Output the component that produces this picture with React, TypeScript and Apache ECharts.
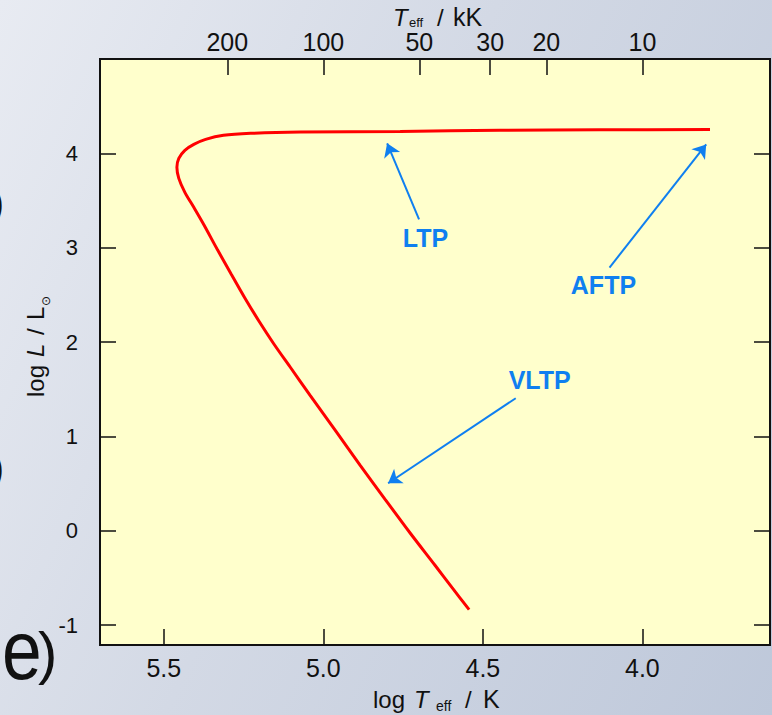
import { useEffect, useRef } from "react";
import * as echarts from "echarts";

// Post-AGB track: log Teff (K) and log L/Lsun, traced from the AFTP end through the knee to the VLTP end
const logTeff = [
  3.788, 4.134, 4.447, 4.759, 5.072, 5.228, 5.313, 5.369, 5.406, 5.434, 5.453, 5.459,
  5.453, 5.434, 5.406, 5.374, 5.333, 5.289, 5.246, 5.202, 5.155, 5.104, 5.042, 4.963,
  4.885, 4.807, 4.728, 4.65, 4.597, 4.543,
];
const logL = [
  4.254, 4.249, 4.244, 4.233, 4.226, 4.212, 4.191, 4.148, 4.095, 4.032, 3.947, 3.852,
  3.735, 3.587, 3.428, 3.241, 2.986, 2.722, 2.467, 2.223, 1.98, 1.736, 1.439, 1.068,
  0.697, 0.337, -0.023, -0.365, -0.6, -0.835,
];

// Axis ticks
const bottomTicks = [4.0, 4.5, 5.0, 5.5];
const leftTicks = [-1, 0, 1, 2, 3, 4];
const topTicksKK = [200, 100, 50, 30, 20, 10];

// Annotations: label, label anchor, arrow tail, arrow head (log Teff, log L)
const noteNames = ["LTP", "AFTP", "VLTP"];
const notePos = [
  [4.68, 3.1],
  [4.122, 2.6],
  [4.322, 1.595],
];
const arrowTail = [
  [4.7, 3.3],
  [4.103, 2.79],
  [4.397, 1.405],
];
const arrowHead = [
  [4.8, 4.106],
  [3.8, 4.095],
  [4.797, 0.504],
];

const X_MIN = 3.6;
const X_MAX = 5.7;
const Y_MIN = -1.21;
const Y_MAX = 5.0;

const FONT = "'Liberation Sans', Arial, Helvetica, sans-serif";
const BLUE = "#0f7ff0";
const INK = "#111111";

const txt = (x: number, y: number, text: string, font: string, extra: any = {}) => ({
  type: "text",
  x,
  y,
  style: { text, font, fill: INK, verticalAlign: "middle", ...extra },
});

export default function App() {
  const ref = useRef<HTMLDivElement | null>(null);

  useEffect(() => {
    if (!ref.current) return;
    const chart = echarts.init(ref.current, null, { renderer: "svg" });

    const tickStyle = { show: true, inside: true, length: 16, lineStyle: { color: INK, width: 1.5 } };
    const noLine = { show: false, onZero: false };
    const topTickValues = topTicksKK.map((t) => Math.log10(t * 1000));

    const option: any = {
      animation: false,
      backgroundColor: "transparent",
      grid: {
        left: 100,
        right: 2,
        top: 59,
        bottom: 70,
        show: true,
        backgroundColor: "#ffffcc",
        borderColor: INK,
        borderWidth: 2,
      },
      xAxis: [
        {
          type: "value",
          position: "bottom",
          min: X_MIN,
          max: X_MAX,
          inverse: true,
          axisLine: noLine,
          splitLine: { show: false },
          axisTick: { ...tickStyle, customValues: bottomTicks },
          axisLabel: {
            customValues: bottomTicks,
            formatter: (v: number) => v.toFixed(1),
            fontSize: 25,
            fontFamily: FONT,
            color: INK,
            margin: 10,
          },
        },
        {
          type: "value",
          position: "top",
          min: X_MIN,
          max: X_MAX,
          inverse: true,
          axisLine: noLine,
          splitLine: { show: false },
          axisTick: { ...tickStyle, customValues: topTickValues },
          axisLabel: {
            customValues: topTickValues,
            formatter: (v: number) => String(Math.round(Math.pow(10, v) / 1000)),
            fontSize: 25,
            fontFamily: FONT,
            color: INK,
            margin: 5,
          },
        },
      ],
      yAxis: [
        {
          type: "value",
          position: "left",
          min: Y_MIN,
          max: Y_MAX,
          axisLine: noLine,
          splitLine: { show: false },
          axisTick: { ...tickStyle, customValues: leftTicks },
          axisLabel: {
            customValues: leftTicks,
            formatter: (v: number) => String(v),
            fontSize: 22,
            fontFamily: FONT,
            color: INK,
            margin: 22,
          },
        },
        {
          type: "value",
          position: "right",
          min: Y_MIN,
          max: Y_MAX,
          axisLine: noLine,
          splitLine: { show: false },
          axisTick: { ...tickStyle, customValues: leftTicks },
          axisLabel: { show: false, customValues: leftTicks },
        },
      ],
      series: [
        {
          type: "line",
          xAxisIndex: 0,
          yAxisIndex: 0,
          data: logTeff.map((x, i) => [x, logL[i]]),
          smooth: 0.3,
          symbol: "none",
          lineStyle: { color: "#ff0000", width: 3 },
          z: 3,
        },
        {
          type: "scatter",
          xAxisIndex: 0,
          yAxisIndex: 0,
          symbolSize: 0,
          itemStyle: { color: BLUE, opacity: 0 },
          data: noteNames.map((n, i) => ({ name: n, value: notePos[i] })),
          label: {
            show: true,
            position: "inside",
            formatter: "{b}",
            color: BLUE,
            opacity: 1,
            textBorderWidth: 0,
            fontSize: 25,
            fontWeight: "bold",
            fontFamily: FONT,
          },
          markLine: {
            silent: true,
            symbol: ["none", "arrow"],
            symbolSize: 13,
            label: { show: false },
            lineStyle: { color: BLUE, width: 2, type: "solid", opacity: 1 },
            itemStyle: { color: BLUE },
            data: arrowTail.map((t, i) => [{ coord: t }, { coord: arrowHead[i] }]),
          },
          z: 4,
        },
      ],
      graphic: [
        // top axis title: T_eff / kK
        txt(393, 17, "T", `italic 24px ${FONT}`),
        txt(409, 22, "eff", `13px ${FONT}`),
        txt(437, 17, "/", `24px ${FONT}`),
        txt(453, 17, "kK", `25px ${FONT}`),
        // bottom axis title: log T_eff / K
        txt(373, 699, "log", `24px ${FONT}`),
        txt(414, 699, "T", `italic 24px ${FONT}`),
        txt(436, 706, "eff", `14px ${FONT}`),
        txt(465, 699, "/", `24px ${FONT}`),
        txt(483, 699, "K", `25px ${FONT}`),
        // left axis title: log L / L_sun, rotated
        {
          type: "group",
          x: 35,
          y: 397,
          rotation: Math.PI / 2,
          children: [
            txt(0, 0, "log", `24px ${FONT}`),
            txt(40, 0, "L", `italic 24px ${FONT}`),
            txt(62, 0, "/", `24px ${FONT}`),
            txt(77, 0, "L", `24px ${FONT}`),
            txt(91, 11, "⊙", `12px 'DejaVu Sans', ${FONT}`),
          ],
        },
        // neighbouring slide content at the left edge
        txt(4, 203, ")", `40px ${FONT}`, { align: "right" }),
        txt(4, 468, ")", `40px ${FONT}`, { align: "right" }),
        { ...txt(2, 650, "e", `84px ${FONT}`), scaleX: 0.85 },
        txt(38, 652, ")", `58px ${FONT}`),
      ],
    };

    chart.setOption(option);
    return () => chart.dispose();
  }, []);

  return (
    <div
      style={{
        position: "fixed",
        left: 0,
        top: 0,
        width: 772,
        height: 715,
        background: "linear-gradient(115deg, #e8ebf2 0%, #d3d9e5 45%, #bec8da 100%)",
      }}
    >
      <div ref={ref} style={{ width: 772, height: 715 }} />
    </div>
  );
}
